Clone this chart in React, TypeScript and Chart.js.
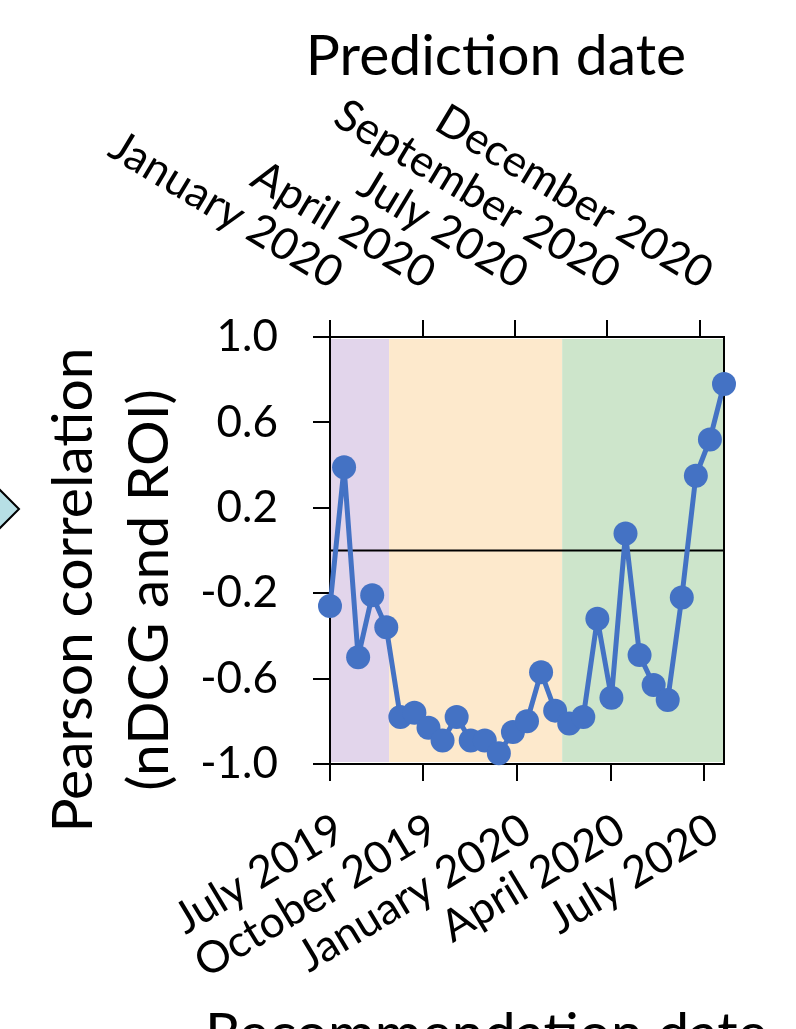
import React, { useEffect, useRef } from 'react';
import { Chart, registerables } from 'chart.js';

Chart.register(...registerables);

// ---- data ----
const periods = [0, 1, 2, 3, 4, 5, 6, 7, 8, 9, 10, 11, 12, 13, 14, 15, 16, 17, 18, 19, 20, 21, 22, 23, 24, 25, 26, 27, 28];
const correlation = [
  -0.26, 0.39, -0.5, -0.21, -0.36, -0.78, -0.76, -0.83, -0.89, -0.78,
  -0.89, -0.89, -0.95, -0.85, -0.8, -0.57, -0.75, -0.81, -0.78, -0.32,
  -0.69, 0.08, -0.49, -0.63, -0.7, -0.22, 0.35, 0.52, 0.78,
];
const bottomTickPos = [0, 6.63, 13.27, 19.95, 26.6];
const bottomLabels = ['July 2019', 'October 2019', 'January 2020', 'April 2020', 'July 2020'];
const topTickPos = [0, 6.59, 13.17, 19.71, 26.3];
const topLabels = ['January 2020', 'April 2020', 'July 2020', 'September 2020', 'December 2020'];
const yTicks = [-1.0, -0.6, -0.2, 0.2, 0.6, 1.0];
const bandEdges = [0, 4.2, 16.5, 28];

// ---- styles ----
const bandColors = ['#E2D5EB', '#FDE9CC', '#CDE5CB'];
const lineColor = '#4472C4';
const FONT = 'Lato';

const decorPlugin = {
  id: 'decor',
  beforeDatasetsDraw(chart: any) {
    const { ctx, chartArea: ca, scales } = chart;
    const x = scales.x;
    const y = scales.y;
    ctx.save();
    for (let i = 0; i < bandEdges.length - 1; i++) {
      const x0 = Math.max(x.getPixelForValue(bandEdges[i]), ca.left + 1);
      const x1 = Math.min(x.getPixelForValue(bandEdges[i + 1]), ca.right - 1);
      ctx.fillStyle = bandColors[i];
      ctx.fillRect(x0, ca.top + 2, x1 - x0, ca.bottom - ca.top - 4);
    }
    ctx.strokeStyle = '#000';
    ctx.lineWidth = 2;
    const y0 = y.getPixelForValue(0);
    ctx.beginPath();
    ctx.moveTo(ca.left, y0);
    ctx.lineTo(ca.right, y0);
    ctx.stroke();
    ctx.strokeRect(ca.left, ca.top, ca.right - ca.left, ca.bottom - ca.top);
    ctx.restore();
  },
  afterDraw(chart: any) {
    const { ctx, chartArea: ca, scales } = chart;
    const xt = scales.xTop;
    ctx.save();
    ctx.fillStyle = '#000';
    // top (prediction date) labels, rotated clockwise, ending at each tick
    ctx.font = `44px ${FONT}`;
    ctx.textAlign = 'right';
    ctx.textBaseline = 'alphabetic';
    const baseY = ca.top - 47;
    for (let i = 0; i < topLabels.length; i++) {
      const px = xt.getPixelForValue(topTickPos[i]) + 1;
      ctx.save();
      ctx.translate(px, baseY);
      ctx.rotate((31 * Math.PI) / 180);
      ctx.fillText(topLabels[i], 0, 0);
      ctx.restore();
    }
    // titles
    ctx.font = `57px ${FONT}`;
    ctx.textAlign = 'center';
    ctx.fillText('Prediction date', 496, 75);
    ctx.textAlign = 'left';
    ctx.fillText('Recommendation date', 205, 1053);
    // y title
    ctx.save();
    ctx.translate(92, 590);
    ctx.rotate(-Math.PI / 2);
    ctx.textAlign = 'center';
    ctx.fillText('Pearson correlation', 0, 0);
    ctx.fillText('(nDCG and ROI)', 0, 76);
    ctx.restore();
    // arrow tip from neighbouring panel
    ctx.beginPath();
    ctx.moveTo(-6, 484);
    ctx.lineTo(19, 509);
    ctx.lineTo(-6, 534);
    ctx.closePath();
    ctx.fillStyle = '#B7DFE5';
    ctx.fill();
    ctx.strokeStyle = '#000';
    ctx.lineWidth = 2;
    ctx.stroke();
    ctx.restore();
  },
};

export default function App() {
  const ref = useRef<HTMLCanvasElement>(null);
  useEffect(() => {
    if (!ref.current) return;
    const grid = { drawOnChartArea: false, drawTicks: true, tickLength: 17, color: '#000', lineWidth: 2 };
    const border = { display: true, color: '#000', width: 2 };
    const chart = new Chart(ref.current, {
      type: 'line',
      data: {
        datasets: [
          {
            data: correlation.map((v, i) => ({ x: periods[i], y: v })),
            borderColor: lineColor,
            backgroundColor: lineColor,
            borderWidth: 5,
            borderJoinStyle: 'round',
            borderCapStyle: 'round',
            pointRadius: 12,
            pointBorderWidth: 0,
            pointBackgroundColor: lineColor,
            tension: 0,
            clip: false as any,
          },
        ],
      },
      options: {
        responsive: false,
        animation: false,
        devicePixelRatio: 1,
        layout: { padding: { left: 0, right: 72, top: 0, bottom: 0 } },
        plugins: { legend: { display: false }, tooltip: { enabled: false } },
        scales: {
          x: {
            type: 'linear',
            position: 'bottom',
            min: 0,
            max: 28,
            afterBuildTicks: (s: any) => {
              s.ticks = bottomTickPos.map((v) => ({ value: v }));
            },
            afterFit: (s: any) => {
              s.height = 265;
            },
            grid,
            border,
            ticks: {
              autoSkip: false,
              minRotation: 31,
              maxRotation: 31,
              padding: 22,
              labelOffset: 10,
              color: '#000',
              font: { family: FONT, size: 44 },
              callback: (_v: any, i: number) => bottomLabels[i],
            },
          },
          xTop: {
            type: 'linear',
            position: 'top',
            min: 0,
            max: 28,
            afterBuildTicks: (s: any) => {
              s.ticks = topTickPos.map((v) => ({ value: v }));
            },
            afterFit: (s: any) => {
              s.height = 337;
            },
            grid,
            border,
            ticks: { display: false },
          },
          y: {
            type: 'linear',
            min: -1,
            max: 1,
            afterBuildTicks: (s: any) => {
              s.ticks = yTicks.map((v) => ({ value: v }));
            },
            afterFit: (s: any) => {
              s.width = 330;
            },
            grid,
            border,
            ticks: {
              padding: 35,
              color: '#000',
              font: { family: FONT, size: 44 },
              callback: (v: any) => Number(v).toFixed(1),
            },
          },
        },
      } as any,
      plugins: [decorPlugin],
    });
    return () => chart.destroy();
  }, []);
  return (
    <div style={{ position: 'fixed', left: 0, top: 0, width: 796, height: 1029, background: '#fff', overflow: 'hidden' }}>
      <canvas ref={ref} width={796} height={1029} style={{ display: 'block', width: 796, height: 1029 }} />
    </div>
  );
}
